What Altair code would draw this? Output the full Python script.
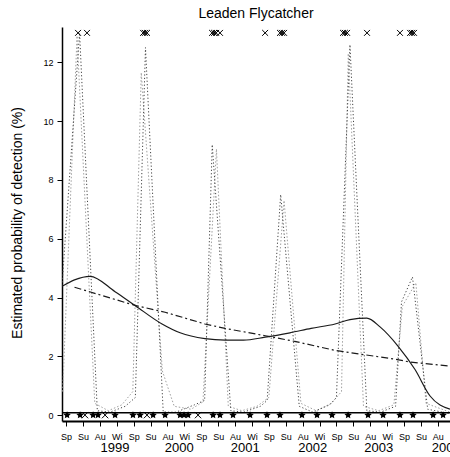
import altair as alt
import pandas as pd

FONT = "Liberation Sans"

# ---------------- data (x in season units: 0 = Spring 1999) ----------------
seasons = ["Sp", "Su", "Au", "Wi"]
season_ticks = list(range(0, 23))
years = ["1999", "2000", "2001", "2002", "2003", "2004"]
year_pos = [2.9, 6.7, 10.6, 14.6, 18.5, 22.5]
y_ticks = [0, 2, 4, 6, 8, 10, 12]

# smooth trend (solid)
trend_t = [-0.24, 0.5, 1.42, 2.9, 4.08, 5.68, 6.75, 8.22, 9.41, 10.5, 11.78, 13.25,
           14.5, 15.92, 16.8, 17.8, 18.58, 19.64, 20.65, 21.54, 22.72]
trend_v = [4.38, 4.6, 4.72, 4.2, 3.73, 3.1, 2.8, 2.6, 2.55, 2.55, 2.65, 2.8,
           2.95, 3.1, 3.25, 3.3, 3.0, 2.35, 1.55, 0.65, 0.2]

# linear-ish trend (dash-dot)
dd_t = [0.5, 4.08, 5.86, 8.22, 9.41, 11.78, 13.6, 15.92, 17.7, 19.5, 20.4, 22.72]
dd_v = [4.35, 3.73, 3.5, 3.1, 2.95, 2.7, 2.5, 2.2, 2.05, 1.9, 1.8, 1.67]

# seasonal estimate (dark dotted)
sa_t = [-0.24, 0.8, 1.85, 2.6, 3.5, 4.1, 4.7, 5.75, 6.5, 7.6, 8.2, 8.65, 9.75, 10.5,
        11.5, 11.9, 12.7, 13.8, 14.6, 15.6, 16.0, 16.8, 17.8, 18.6, 19.5, 19.85, 20.5,
        21.4, 22.72]
sa_v = [4.4, 13.0, 0.15, 0.1, 0.3, 0.6, 12.5, 0.1, 0.1, 0.35, 0.5, 9.2, 0.15, 0.1,
        0.3, 0.5, 7.5, 0.3, 0.1, 0.35, 0.6, 12.6, 0.15, 0.1, 0.3, 3.85, 4.7, 0.2, 0.05]

# seasonal estimate (light dotted)
sb_t = [-0.2, 0.65, 1.7, 2.5, 3.3, 3.95, 4.45, 5.7, 6.4, 7.4, 8.1, 8.9, 9.6, 10.4,
        11.3, 12.0, 12.9, 13.9, 14.8, 15.7, 16.3, 16.7, 17.6, 18.5, 19.4, 19.9, 20.7,
        21.3, 22.72]
sb_v = [0.8, 12.9, 0.4, 0.15, 0.35, 0.8, 11.65, 1.5, 0.3, 0.2, 0.45, 9.05, 0.3, 0.15,
        0.3, 0.6, 7.3, 0.4, 0.15, 0.4, 0.8, 12.3, 0.3, 0.15, 0.35, 3.7, 4.5, 0.4, 0.1]

# detections (top crosses) and non-detections (bottom stars)
top_t = [0.71, 1.24, 4.56, 4.67, 4.79, 8.64, 8.76, 8.88, 9.11, 11.78, 12.66, 12.78, 12.9,
         16.39, 16.5, 16.63, 17.81, 19.76, 20.36, 20.47, 20.59]
bot_t = [0.06, 0.83, 1.12, 1.6, 1.89, 2.31, 2.9, 3.96, 4.38, 4.79, 5.15, 5.86, 6.75, 6.98,
         7.22, 7.81, 8.7, 9.11, 9.88, 10.89, 11.89, 12.66, 13.96, 14.85, 15.74, 16.69,
         17.87, 18.76, 19.76, 20.53, 21.72, 22.31]
bot_kind = ["s", "s", "x", "s", "s", "x", "s", "s", "s", "x", "s", "s", "s", "s",
            "s", "x", "s", "s", "s", "s", "s", "s", "s", "s", "s", "s",
            "s", "s", "s", "s", "s", "s"]

# ---------------- chart ----------------
W, H = 388, 394
STAR = ("M0,-1L0.294,-0.405L0.951,-0.309L0.476,0.155L0.588,0.809L0,0.5"
        "L-0.588,0.809L-0.476,0.155L-0.951,-0.309L-0.294,-0.405Z")
XMARK = "M-1,-1L1,1M-1,1L1,-1"


def X(field="t"):
    return alt.X(
        f"{field}:Q",
        scale=alt.Scale(domain=[-0.24, 22.72], nice=False, zero=False),
        axis=alt.Axis(
            values=season_ticks, title=None, grid=False,
            labelExpr="['Sp','Su','Au','Wi'][datum.value % 4]",
            labelFont=FONT, labelFontSize=9, labelColor="black",
            labelOverlap=False, labelFlush=False, labelBound=False,
            tickSize=5, tickColor="black", tickWidth=1,
            labelPadding=6, domainColor="black", domainWidth=2,
        ),
    )


def Y(field="v"):
    return alt.Y(
        f"{field}:Q",
        scale=alt.Scale(domain=[-0.2, 13.2], nice=False, zero=False),
        axis=alt.Axis(
            values=y_ticks, title=None, grid=False,
            labelFont=FONT, labelFontSize=9, labelColor="black",
            tickSize=5, tickColor="black", tickWidth=1, labelPadding=4,
            domainColor="black", domainWidth=1.5,
        ),
    )


df_trend = pd.DataFrame({"t": trend_t, "v": trend_v})
df_dd = pd.DataFrame({"t": dd_t, "v": dd_v})
df_a = pd.DataFrame({"t": sa_t, "v": sa_v})
df_b = pd.DataFrame({"t": sb_t, "v": sb_v})
df_top = pd.DataFrame({"t": top_t, "v": [13.0] * len(top_t)})
df_bot = pd.DataFrame({"t": bot_t, "v": [0.0] * len(bot_t), "k": bot_kind})
df_years = pd.DataFrame({"t": year_pos, "label": years})

light = alt.Chart(df_b).mark_line(
    color="#a0a0a0", strokeWidth=1.0, strokeDash=[1.5, 2], clip=True
).encode(x=X(), y=Y())

dark = alt.Chart(df_a).mark_line(
    color="#444444", strokeWidth=1.0, strokeDash=[1.2, 2.2], clip=True
).encode(x=X(), y=Y())

solid = alt.Chart(df_trend).mark_line(
    color="#1a1a1a", strokeWidth=1.2, interpolate="monotone", clip=True
).encode(x=X(), y=Y())

dashdot = alt.Chart(df_dd).mark_line(
    color="#1a1a1a", strokeWidth=1.2, strokeDash=[7, 3, 2, 3], clip=True
).encode(x=X(), y=Y())

zero_line = alt.Chart(pd.DataFrame({"v": [0.08]})).mark_rule(
    color="black", strokeWidth=1.5
).encode(y=Y())

stars = alt.Chart(df_bot[df_bot.k == "s"]).mark_point(
    shape=STAR, filled=True, color="black", size=60, opacity=1
).encode(x=X(), y=Y())

bot_x = alt.Chart(df_bot[df_bot.k == "x"]).mark_point(
    shape=XMARK, filled=False, color="black", size=40, strokeWidth=1, opacity=1
).encode(x=X(), y=Y())

top_x = alt.Chart(df_top).mark_point(
    shape=XMARK, filled=False, color="black", size=35, strokeWidth=1, opacity=1
).encode(x=X(), y=Y())

year_text = alt.Chart(df_years).mark_text(
    font=FONT, fontSize=13, color="black", baseline="middle", align="center"
).encode(x=X(), y=alt.value(421), text="label:N")

title_text = alt.Chart(pd.DataFrame({"s": ["Leaden Flycatcher"]})).mark_text(
    font=FONT, fontSize=14, color="black", baseline="middle", align="center"
).encode(x=alt.value(W / 2), y=alt.value(-13), text="s:N")

ytitle_text = alt.Chart(pd.DataFrame({"s": ["Estimated probability of detection (%)"]})).mark_text(
    font=FONT, fontSize=14, color="black", baseline="middle", align="center", angle=270
).encode(x=alt.value(-44), y=alt.value(196), text="s:N")

chart = alt.layer(
    light, dark, solid, dashdot, zero_line, stars, bot_x, top_x,
    year_text, title_text, ytitle_text,
).properties(
    width=W, height=H,
    autosize=alt.AutoSizeParams(type="none"),
    padding={"left": 62, "top": 27, "right": 0, "bottom": 36},
    background="white",
).configure_view(stroke=None)

chart.save("out.html", embed_options={"renderer": "svg", "actions": False})
